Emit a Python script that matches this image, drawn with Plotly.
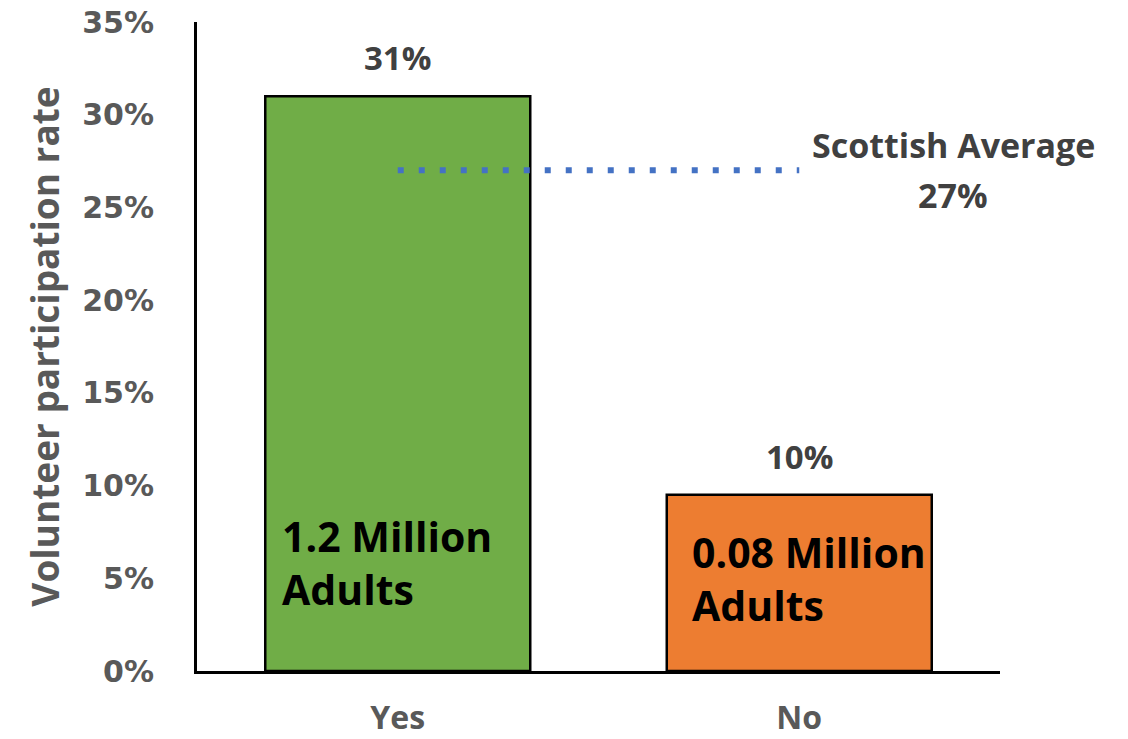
import plotly.graph_objects as go

# Volunteer participation by group
categories = ["Yes", "No"]
rates = [0.31, 0.095]
adults_labels = ["1.2 Million<br>Adults", "0.08 Million<br>Adults"]
bar_colors = ["#70AD47", "#ED7D31"]
scottish_average = 0.27
average_label = "Scottish Average"

LABEL_FONT = "Open Sans"
TICK_FONT = "DejaVu Sans"

fig = go.Figure()

fig.add_trace(go.Bar(
    x=categories,
    y=rates,
    marker=dict(color=bar_colors, line=dict(color="#000000", width=2.5)),
    width=0.66,
    hoverinfo="skip",
    showlegend=False,
))

# Dotted reference line for the national average
fig.add_trace(go.Scatter(
    x=categories,
    y=[scottish_average, scottish_average],
    mode="lines",
    line=dict(color="#4472C4", width=6, dash="6px,15px"),
    hoverinfo="skip",
    showlegend=False,
))

annotations = []
# Value labels above bars
for cat, val in zip(categories, rates):
    annotations.append(dict(
        x=cat, y=val, xref="x", yref="y",
        text=f"<b>{val:.0%}</b>", showarrow=False,
        xanchor="center", yanchor="bottom", yshift=14,
        font=dict(family=LABEL_FONT, size=33, color="#404040"),
    ))

# Population labels inside bars
inside_pos = [(-0.293, 0.0583), (0.727, 0.0497)]
for (xp, yp), txt in zip(inside_pos, adults_labels):
    annotations.append(dict(
        x=xp, y=yp, xref="x", yref="y",
        text=f"<b>{txt}</b>", showarrow=False, align="left",
        xanchor="left", yanchor="middle",
        font=dict(family=LABEL_FONT, size=41, color="#000000"),
    ))

# Average label to the right of the dotted line
annotations.append(dict(
    x=1.383, y=scottish_average, xref="x", yref="y",
    text=f"<b>{average_label}</b>", showarrow=False,
    xanchor="center", yanchor="middle", yshift=25,
    font=dict(family=LABEL_FONT, size=34, color="#404040"),
))
annotations.append(dict(
    x=1.383, y=scottish_average, xref="x", yref="y",
    text=f"<b>{scottish_average:.0%}</b>", showarrow=False,
    xanchor="center", yanchor="middle", yshift=-25,
    font=dict(family=LABEL_FONT, size=34, color="#404040"),
))

fig.update_layout(
    width=1128, height=739,
    margin=dict(l=197, r=128, t=22, b=68),
    plot_bgcolor="#FFFFFF",
    paper_bgcolor="#FFFFFF",
    bargap=0.34,
    annotations=annotations,
)

fig.update_xaxes(
    range=[-0.5, 1.5], automargin=False,
    showline=True, linecolor="#000000", linewidth=3,
    showgrid=False, ticks="",
    tickfont=dict(family=LABEL_FONT, size=32, color="#595959", weight="bold"),
    ticklabelstandoff=17,
)

fig.update_yaxes(
    range=[0, 0.35], dtick=0.05, tickformat=".0%", automargin=False,
    showline=True, linecolor="#000000", linewidth=3,
    showgrid=False, zeroline=False, ticks="",
    tickfont=dict(family=TICK_FONT, size=30, color="#595959", weight="bold"),
    ticklabelstandoff=34,
    title=dict(
        text="Volunteer participation rate",
        font=dict(family=LABEL_FONT, size=37, color="#595959", weight="bold"),
        standoff=12,
    ),
)

fig.write_html("out.html")
